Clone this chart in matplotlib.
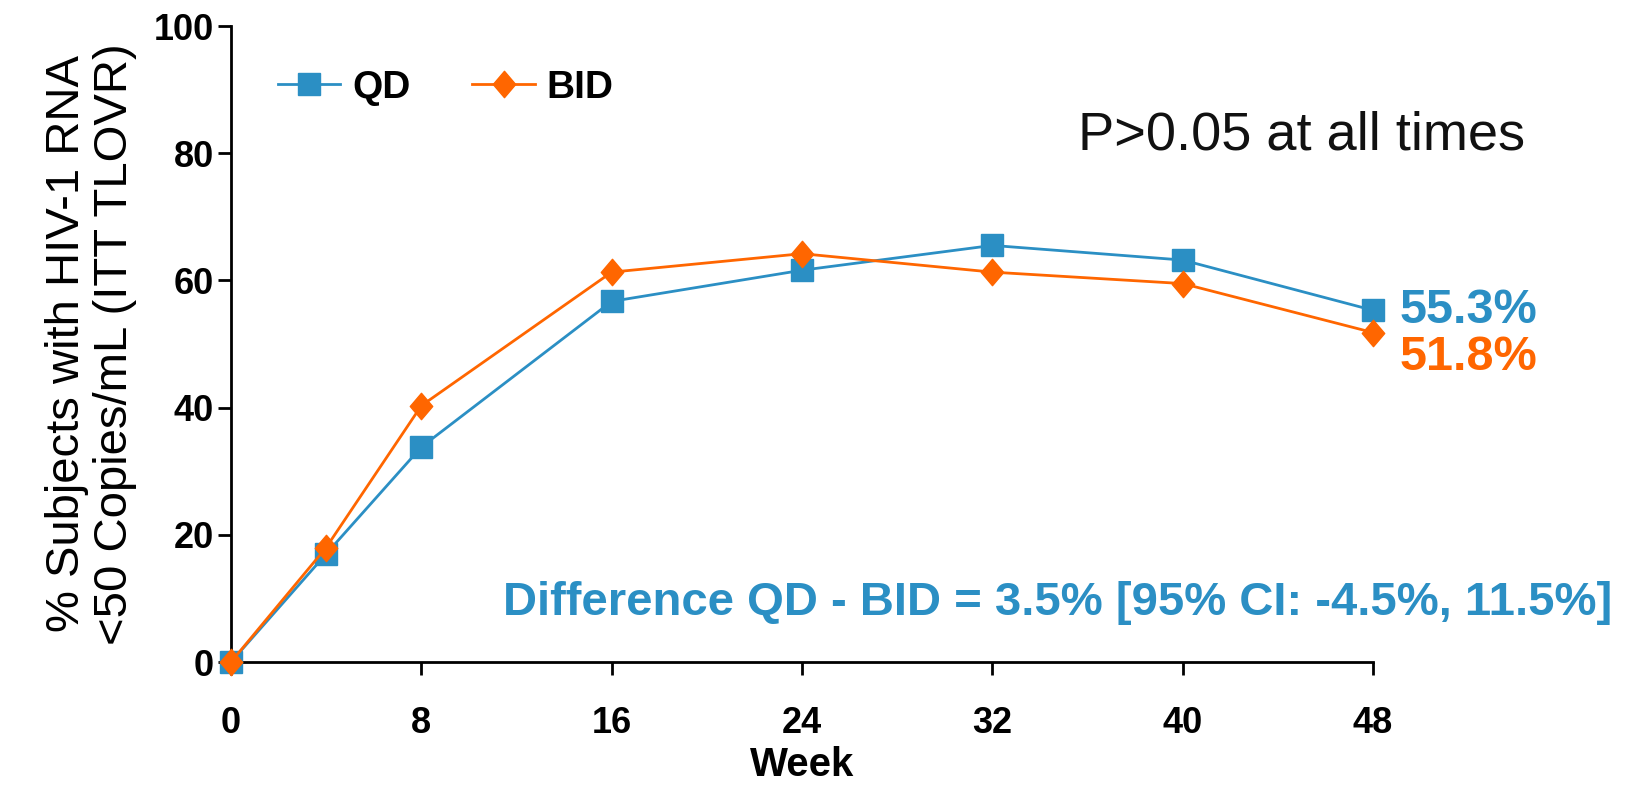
import matplotlib.pyplot as plt
from matplotlib.path import Path

plt.rcParams['font.family'] = ['Liberation Sans', 'DejaVu Sans']

# weeks and % responders (HIV-1 RNA <50 copies/mL)
weeks = [0, 4, 8, 16, 24, 32, 40, 48]
qd = [0, 17.0, 33.8, 56.7, 61.6, 65.5, 63.2, 55.3]
bid = [0, 18.0, 40.3, 61.3, 64.2, 61.3, 59.5, 51.8]
xticks = [0, 8, 16, 24, 32, 40, 48]
yticks = [0, 20, 40, 60, 80, 100]

blue = '#2b8fc4'
orange = '#ff6600'

# slightly narrow diamond
diamond = Path([(0, 1), (0.85, 0), (0, -1), (-0.85, 0), (0, 1)],
               [Path.MOVETO, Path.LINETO, Path.LINETO, Path.LINETO, Path.CLOSEPOLY])

fig = plt.figure(figsize=(16.3, 7.95), dpi=100)
ax = fig.add_axes([231 / 1630, 133 / 795, 1142 / 1630, 636 / 795])

ax.plot(weeks, qd, color=blue, lw=2.0, marker='s', ms=15.5, label='QD', clip_on=False, zorder=3)
ax.plot(weeks, bid, color=orange, lw=2.0, marker=diamond, ms=19, label='BID', clip_on=False, zorder=4)

ax.set_xlim(0, 48)
ax.set_ylim(0, 100)
ax.set_xticks(xticks)
ax.set_yticks(yticks)
ax.spines['top'].set_visible(False)
ax.spines['right'].set_visible(False)
ax.spines['left'].set_linewidth(2)
ax.spines['bottom'].set_linewidth(2)
ax.tick_params(axis='both', direction='out', length=9.5, width=2, labelsize=26)
ax.tick_params(axis='x', pad=22)
ax.tick_params(axis='y', pad=3)
for lab in ax.get_xticklabels() + ax.get_yticklabels():
    lab.set_fontweight('bold')

ax.set_xlabel('Week', fontsize=29, fontweight='bold', labelpad=4)
ax.set_ylabel('% Subjects with HIV-1 RNA\n<50 Copies/mL (ITT TLOVR)', fontsize=34,
              linespacing=1.1, labelpad=12)

ax.legend(loc='center left', bbox_to_anchor=(278 / 1630, 1 - 88 / 795),
          bbox_transform=fig.transFigure, ncol=2, frameon=False, borderpad=0,
          borderaxespad=0, handlelength=1.6, handletextpad=0.3, columnspacing=1.6,
          prop={'weight': 'bold', 'size': 28})

fig.text(1302 / 1630, 1 - 135 / 795, 'P>0.05 at all times', fontsize=39,
         ha='center', va='center', color='#111111')
fig.text(1058 / 1630, 1 - 603 / 795, 'Difference QD - BID = 3.5% [95% CI: -4.5%, 11.5%]',
         fontsize=34, fontweight='bold', color=blue, ha='center', va='center')

ax.annotate(f'{qd[-1]:.1f}%', (weeks[-1], qd[-1]), xytext=(19, 0), textcoords='offset points',
            fontsize=35, fontweight='bold', color=blue, va='center', ha='left')
ax.annotate(f'{bid[-1]:.1f}%', (weeks[-1], bid[-1]), xytext=(19, -18), textcoords='offset points',
            fontsize=35, fontweight='bold', color=orange, va='center', ha='left')

fig.savefig('out.png', dpi=100)
